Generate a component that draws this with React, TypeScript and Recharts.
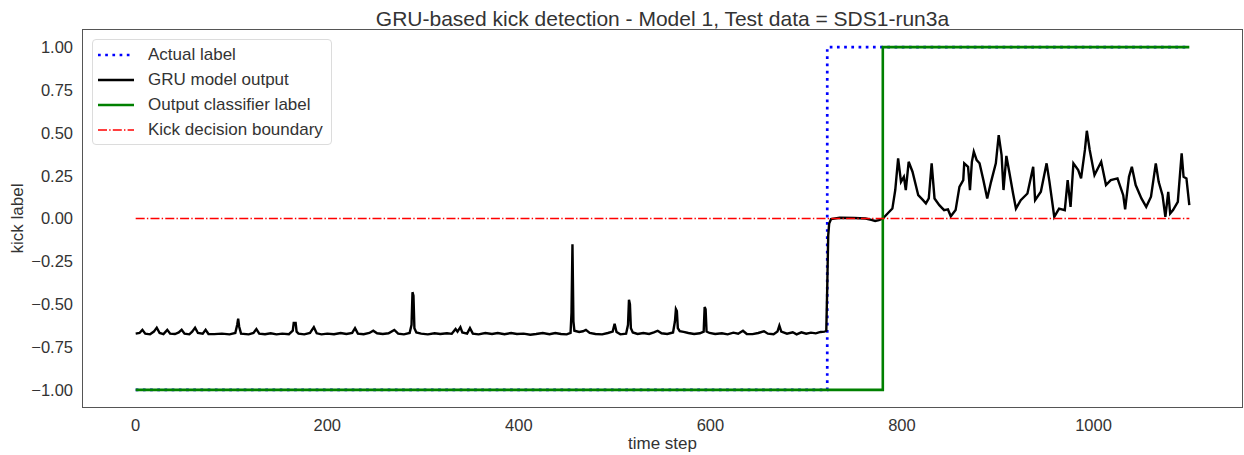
import { LineChart, Line, XAxis, YAxis, Legend } from 'recharts';

// GRU model output as [time step, value]
const gruBeforeKick: [number, number][] = [
  [0, -0.672], [4, -0.668], [7, -0.65], [10, -0.672], [15, -0.676], [19, -0.66], [22, -0.637],
  [25, -0.668], [29, -0.675], [33, -0.65], [36, -0.672], [41, -0.674], [45, -0.665], [48, -0.649],
  [51, -0.672], [56, -0.676], [59, -0.66], [62, -0.637], [65, -0.668], [70, -0.672], [73, -0.65],
  [76, -0.674], [82, -0.675], [90, -0.672], [98, -0.676], [104, -0.668], [106, -0.62], [107, -0.585],
  [108, -0.63], [110, -0.672], [118, -0.676], [123, -0.668], [126, -0.645], [129, -0.672], [135, -0.675],
  [141, -0.67], [147, -0.676], [153, -0.672], [160, -0.675], [164, -0.655], [165, -0.61], [167, -0.61],
  [168, -0.66], [170, -0.672], [176, -0.676], [182, -0.668], [186, -0.634], [189, -0.67], [194, -0.676],
  [200, -0.672], [207, -0.675], [214, -0.668], [220, -0.674], [226, -0.668], [229, -0.64], [232, -0.672],
  [238, -0.675], [244, -0.668], [248, -0.655], [252, -0.67], [258, -0.674], [264, -0.67], [270, -0.65],
  [274, -0.672], [280, -0.676], [286, -0.668], [288, -0.62], [289, -0.43], [290, -0.45], [291, -0.64],
  [293, -0.665], [298, -0.672], [305, -0.676], [312, -0.67], [318, -0.674], [325, -0.67], [330, -0.673],
  [334, -0.645], [336, -0.66], [339, -0.634], [341, -0.665], [346, -0.672], [349, -0.64], [352, -0.672],
  [358, -0.676], [365, -0.668], [372, -0.674], [378, -0.668], [385, -0.675], [392, -0.668], [398, -0.674],
  [405, -0.672], [412, -0.678], [418, -0.674], [425, -0.668], [432, -0.675], [438, -0.668], [444, -0.674],
  [450, -0.676], [454, -0.668], [455, -0.55], [456, -0.15], [457, -0.6], [458, -0.655], [463, -0.662],
  [467, -0.658], [470, -0.65], [474, -0.668], [480, -0.674], [487, -0.676], [493, -0.668], [498, -0.66],
  [500, -0.614], [502, -0.662], [506, -0.676], [512, -0.672], [514, -0.62], [515, -0.474], [516, -0.5],
  [517, -0.64], [519, -0.665], [524, -0.674], [530, -0.668], [536, -0.674], [541, -0.665], [545, -0.655],
  [549, -0.67], [555, -0.674], [561, -0.665], [563, -0.6], [564, -0.529], [565, -0.54], [566, -0.64],
  [568, -0.658], [572, -0.662], [577, -0.668], [583, -0.674], [589, -0.67], [593, -0.66], [594, -0.517],
  [595, -0.53], [596, -0.66], [599, -0.668], [605, -0.674], [612, -0.67], [618, -0.676], [624, -0.666],
  [629, -0.672], [634, -0.655], [638, -0.674], [644, -0.675], [650, -0.668], [656, -0.658], [660, -0.672],
  [666, -0.675], [670, -0.66], [672, -0.625], [674, -0.66], [680, -0.672], [686, -0.664], [690, -0.676],
  [695, -0.664], [700, -0.672], [705, -0.666], [710, -0.67], [715, -0.662], [719, -0.66], [721, -0.655],
];

const gruOnset: [number, number][] = [
  [722, -0.4], [723, -0.1], [724, -0.03], [726, -0.003], [735, 0.004], [750, 0.003], [762, 0.0],
  [768, -0.008], [772, -0.014], [776, -0.01], [780, 0.0],
];

const gruAfterKick: [number, number][] = [
  [785, 0.029], [790, 0.058], [793, 0.166], [796, 0.351], [799, 0.214], [802, 0.243], [804, 0.166],
  [807, 0.331], [811, 0.273], [817, 0.136], [822, 0.107], [825, 0.088], [828, 0.117], [831, 0.322],
  [834, 0.117], [839, 0.078], [844, 0.049], [848, 0.053], [851, 0.013], [856, 0.049], [860, 0.185],
  [864, 0.224], [865, 0.322], [869, 0.302], [871, 0.166], [873, 0.331], [875, 0.39], [878, 0.341],
  [881, 0.322], [885, 0.224], [889, 0.117], [893, 0.214], [898, 0.322], [901, 0.487], [904, 0.37],
  [906, 0.166], [909, 0.365], [912, 0.273], [916, 0.146], [919, 0.058], [924, 0.107], [931, 0.146],
  [937, 0.302], [939, 0.107], [945, 0.156], [951, 0.322], [954, 0.214], [959, 0.01], [964, 0.058],
  [970, 0.049], [973, 0.224], [976, 0.068], [979, 0.322], [984, 0.283], [987, 0.234], [991, 0.4],
  [993, 0.512], [996, 0.4], [1001, 0.253], [1008, 0.331], [1013, 0.195], [1018, 0.224], [1025, 0.234],
  [1031, 0.136], [1033, 0.053], [1037, 0.243], [1040, 0.302], [1044, 0.195], [1050, 0.117], [1055, 0.068],
  [1060, 0.127], [1065, 0.322], [1068, 0.214], [1072, 0.136], [1075, 0.01], [1078, 0.156], [1080, 0.029],
  [1083, 0.049], [1088, 0.097], [1092, 0.38], [1094, 0.243], [1097, 0.234], [1100, 0.078],
];

// step series: value holds until the next change point
const actualLabel: [number, number][] = [[0, -1], [722, 1], [1100, 1]];
const classifierLabel: [number, number][] = [[0, -1], [780, 1], [1100, 1]];
const decisionBoundary: [number, number][] = [[0, 0], [1100, 0]];

const xTicks = [0, 200, 400, 600, 800, 1000];
const yTicks = [-1, -0.75, -0.5, -0.25, 0, 0.25, 0.5, 0.75, 1];

const toPoints = (rows: [number, number][]) => rows.map(([x, y]) => ({ x, y }));

const series = [
  { name: 'Actual label', data: toPoints(actualLabel), color: '#0000ff', width: 2.7, dash: '2.7 4.5', type: 'stepAfter' },
  { name: 'GRU model output', data: toPoints([...gruBeforeKick, ...gruOnset, ...gruAfterKick]), color: '#000000', width: 2.4, dash: undefined, type: 'linear' },
  { name: 'Output classifier label', data: toPoints(classifierLabel), color: '#008000', width: 2.6, dash: undefined, type: 'stepAfter' },
  { name: 'Kick decision boundary', data: toPoints(decisionBoundary), color: '#ff0000', width: 1.4, dash: '9 2.2 1.4 2.2', type: 'linear' },
] as const;

const FONT = '"Liberation Sans", Arial, sans-serif';
const TEXT = '#333333';
const FRAME = '#555555';

// plot area inside the 1244x455 chart
const PLOT = { left: 83, top: 30, right: 2, bottom: 48 };

function formatTick(v: number): string {
  return v < 0 ? `\u2212${Math.abs(v).toFixed(2)}` : v.toFixed(2);
}

function LegendBox() {
  return (
    <div
      style={{
        width: 240,
        height: 106,
        boxSizing: 'border-box',
        border: '1px solid #dcdcdc',
        borderRadius: 4,
        background: 'rgba(255,255,255,0.85)',
        paddingTop: 2,
        fontFamily: FONT,
        fontSize: 17,
        color: TEXT,
      }}
    >
      {series.map((s) => (
        <div key={s.name} style={{ height: 25, display: 'flex', alignItems: 'center' }}>
          <svg width={55} height={12} style={{ flex: 'none' }}>
            <line x1={5} x2={41} y1={6} y2={6} stroke={s.color} strokeWidth={s.width} strokeDasharray={s.dash} />
          </svg>
          <span style={{ whiteSpace: 'nowrap' }}>{s.name}</span>
        </div>
      ))}
    </div>
  );
}

export default function App() {
  return (
    <div style={{ position: 'absolute', left: 0, top: 0, width: 1244, height: 455, background: '#fff' }}>
      <div
        style={{
          position: 'absolute',
          left: 83,
          width: 1159,
          top: 8,
          textAlign: 'center',
          fontFamily: FONT,
          fontSize: 21,
          lineHeight: '21px',
          color: TEXT,
          whiteSpace: 'nowrap',
        }}
      >
        GRU-based kick detection - Model 1, Test data = SDS1-run3a
      </div>
      <LineChart width={1244} height={455} margin={{ top: PLOT.top, right: PLOT.right, bottom: 0, left: 0 }}>
        <XAxis
          dataKey="x"
          type="number"
          domain={[-55, 1155]}
          ticks={xTicks}
          interval={0}
          allowDataOverflow
          height={PLOT.bottom}
          tickLine={false}
          tickSize={6}
          tickMargin={6}
          axisLine={false}
          tick={{ fill: TEXT, fontSize: 16.5, fontFamily: FONT }}
          label={{ value: 'time step', position: 'insideBottom', offset: 6, fill: TEXT, fontSize: 17, fontFamily: FONT }}
        />
        <YAxis
          type="number"
          domain={[-1.1, 1.1]}
          ticks={yTicks}
          interval={0}
          allowDataOverflow
          width={PLOT.left}
          tickLine={false}
          tickSize={6}
          tickMargin={4}
          tickFormatter={formatTick}
          axisLine={false}
          tick={{ fill: TEXT, fontSize: 16.5, fontFamily: FONT }}
          label={{
            value: 'kick label',
            angle: -90,
            position: 'insideLeft',
            offset: 17,
            fill: TEXT,
            fontSize: 17,
            fontFamily: FONT,
            style: { textAnchor: 'middle' },
          }}
        />
        <Legend
          layout="horizontal"
          verticalAlign="middle"
          align="center"
          wrapperStyle={{ left: 92, top: 39, width: 240, height: 106 }}
          content={() => <LegendBox />}
        />
        {series.map((s) => (
          <Line
            key={s.name}
            name={s.name}
            data={s.data as { x: number; y: number }[]}
            dataKey="y"
            type={s.type}
            stroke={s.color}
            strokeWidth={s.width}
            strokeDasharray={s.dash}
            dot={false}
            activeDot={false}
            isAnimationActive={false}
          />
        ))}
      </LineChart>
      {/* axes frame around the plot area */}
      <div
        style={{
          position: 'absolute',
          left: PLOT.left - 1,
          top: PLOT.top - 1,
          right: PLOT.right - 1,
          bottom: PLOT.bottom - 1,
          border: `1.6px solid ${FRAME}`,
          pointerEvents: 'none',
        }}
      />
    </div>
  );
}
